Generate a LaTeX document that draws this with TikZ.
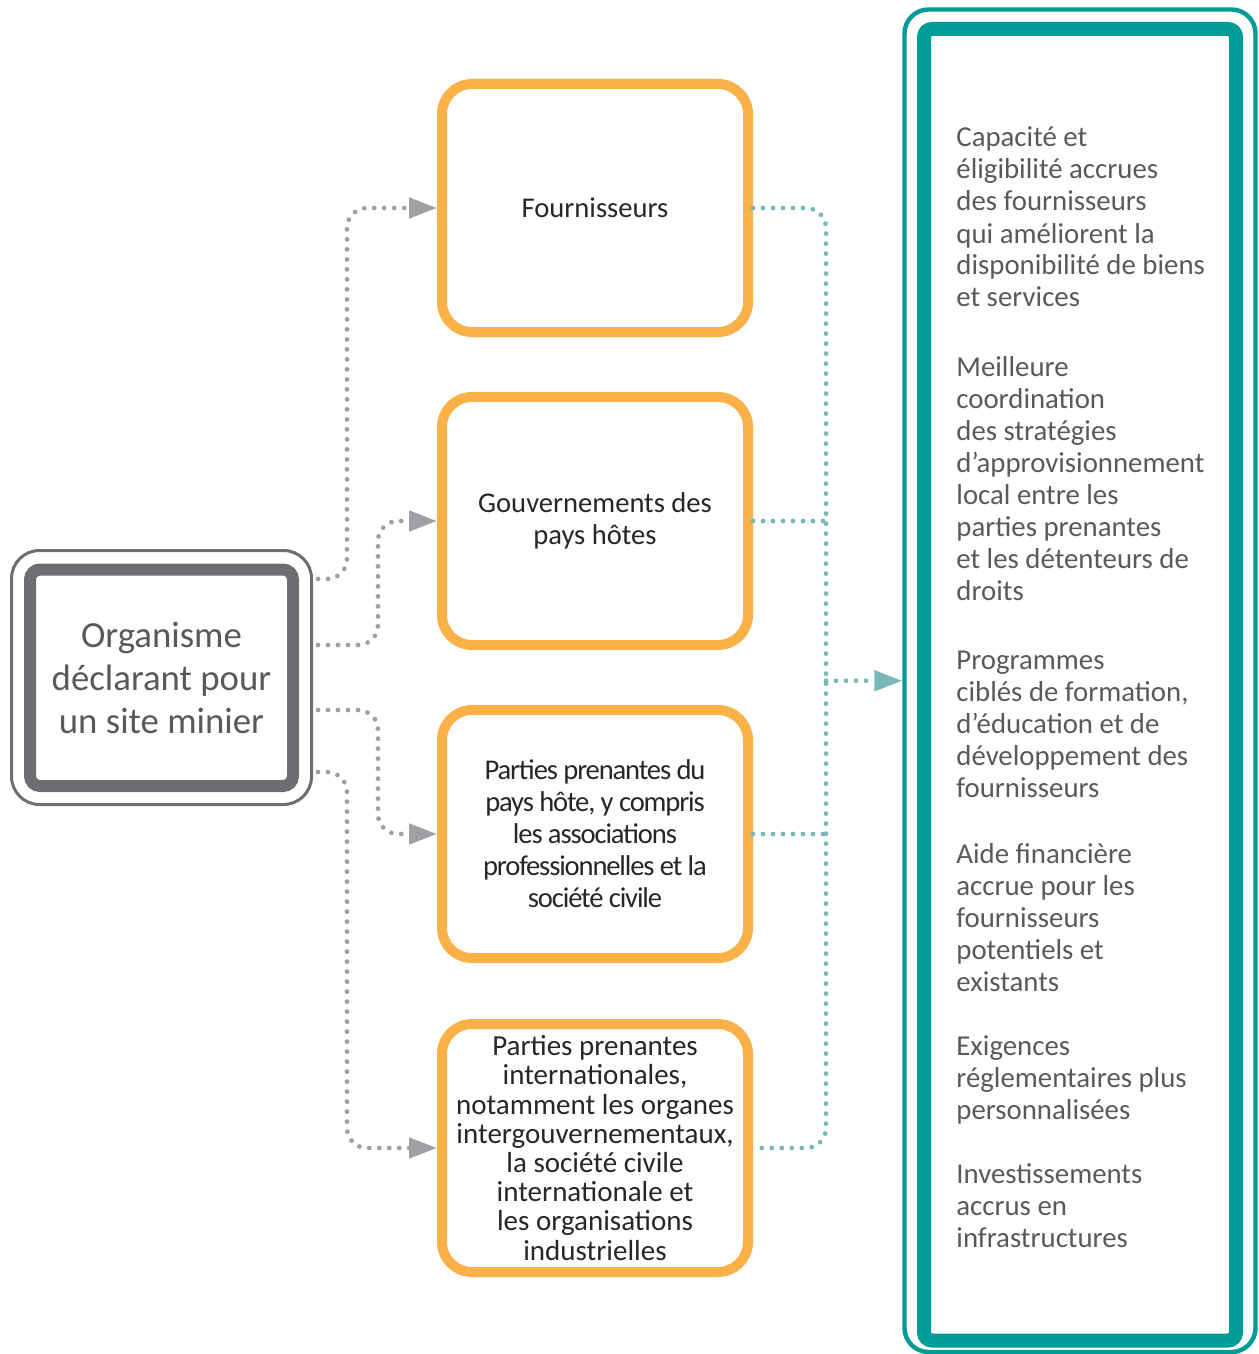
\documentclass[tikz,border=0pt]{standalone}
\usepackage{fontspec}
\setmainfont{Carlito}
\usetikzlibrary{arrows.meta}

\definecolor{orgGray}{RGB}{109,110,113}
\definecolor{dotGray}{RGB}{160,160,164}
\definecolor{textGray}{RGB}{88,89,91}
\definecolor{boxOrange}{RGB}{251,176,72}
\definecolor{resTeal}{RGB}{0,155,150}
\definecolor{dotTeal}{RGB}{122,184,184}

% first line of a list item sits on the node's base
\newcommand{\itemlines}[1]{\begin{tabular}[t]{@{}l@{}}#1\end{tabular}}

\begin{document}
\begin{tikzpicture}[x=0.5pt, y=-0.5pt,
  orgframe/.style={draw=orgGray, line width=1.5pt, rounded corners=14pt,
    minimum width=150pt, minimum height=127pt},
  orgbox/.style={draw=orgGray, line width=6pt, rounded corners=5pt,
    minimum width=131.5pt, minimum height=108.25pt, align=center,
    text=textGray, font=\fontsize{18.4}{21.5}\selectfont},
  actor/.style={draw=boxOrange, line width=5pt, rounded corners=15pt,
    minimum width=153pt, minimum height=124pt, align=center, inner sep=2pt,
    text=black!85, font=\fontsize{14.3}{16}\selectfont},
  resframe/.style={draw=resTeal, line width=2.2pt, rounded corners=12pt,
    minimum width=175.5pt, minimum height=671.25pt},
  resbox/.style={draw=resTeal, line width=7pt, rounded corners=4pt,
    minimum width=156pt, minimum height=655.75pt},
  benefit/.style={anchor=base west, inner sep=0pt,
    text=textGray, font=\fontsize{14.4}{16}\selectfont},
  grayflow/.style={draw=dotGray, line width=2.4pt, line cap=round,
    dash pattern=on 0pt off 5pt, rounded corners=10pt,
    -{Triangle[length=14pt, width=10pt]}},
  tealflow/.style={draw=dotTeal, line width=2.4pt, line cap=round,
    dash pattern=on 0pt off 5pt, rounded corners=10pt}
]
\useasboundingbox (0,0) rectangle (1258,1354);

% -- reporting organisation --
\node[orgframe] (orgout) at (161.5,677.5) {};
\node[orgbox] (org) at (161.5,677.75) {Organisme\\déclarant pour\\un site minier};

% -- stakeholders --
\node[actor] (fourn) at (595,208) {Fournisseurs};
\node[actor] (govt) at (595,521) {Gouvernements des\\pays hôtes};
\node[actor, font=\fontsize{14.3}{16}\selectfont\addfontfeatures{LetterSpace=-4}] (local) at (595,834)
  {Parties prenantes du\\pays hôte, y compris\\les associations\\professionnelles et la\\société civile};
\node[actor, font=\fontsize{14.5}{14.6}\selectfont] (intl) at (595,1148)
  {Parties prenantes\\internationales,\\notamment les organes\\intergouvernementaux,\\la société civile\\internationale et\\les organisations\\industrielles};

% -- outcomes --
\node[resframe] (resout) at (1080,680.75) {};
\node[resbox] (res) at (1080,684.75) {};

\node[benefit] (b1) at (956,147) {\itemlines{Capacité et\\éligibilité accrues\\des fournisseurs\\qui améliorent la\\disponibilité de biens\\et services}};
\node[benefit] (b2) at (956,376) {\itemlines{Meilleure\\coordination\\des stratégies\\d’approvisionnement\\local entre les\\parties prenantes\\et les détenteurs de\\droits}};
\node[benefit] (b3) at (956,669) {\itemlines{Programmes\\ciblés de formation,\\d’éducation et de\\développement des\\fournisseurs}};
\node[benefit] (b4) at (956,863) {\itemlines{Aide financière\\accrue pour les\\fournisseurs\\potentiels et\\existants}};
\node[benefit] (b5) at (956,1055) {\itemlines{Exigences\\réglementaires plus\\personnalisées}};
\node[benefit] (b6) at (956,1183) {\itemlines{Investissements\\accrus en\\infrastructures}};

% -- connectors: organisation to stakeholders --
\coordinate (s1) at (318,579);
\coordinate (s2) at (318,645);
\coordinate (s3) at (318,710);
\coordinate (s4) at (318,772);
\coordinate (colA) at (347,0);
\coordinate (colB) at (378,0);
\coordinate (colT) at (826,0);

\draw[grayflow] (s1) -- (colA |- s1) |- (fourn.west);
\draw[grayflow] (s2) -- (colB |- s2) |- (govt.west);
\draw[grayflow] (s3) -- (colB |- s3) |- (local.west);
\draw[grayflow] (s4) -- (colA |- s4) |- (intl.west);

% -- connectors: stakeholders to outcomes --
\draw[tealflow] (fourn.east) -| (colT |- intl.east) -- (intl.east);
\draw[tealflow] (govt.east) -- (colT |- govt.east);
\draw[tealflow] (local.east) -- (colT |- local.east);
\draw[tealflow, -{Triangle[length=14pt, width=10pt]}] (colT |- resout.west) -- (resout.west);

\end{tikzpicture}
\end{document}
